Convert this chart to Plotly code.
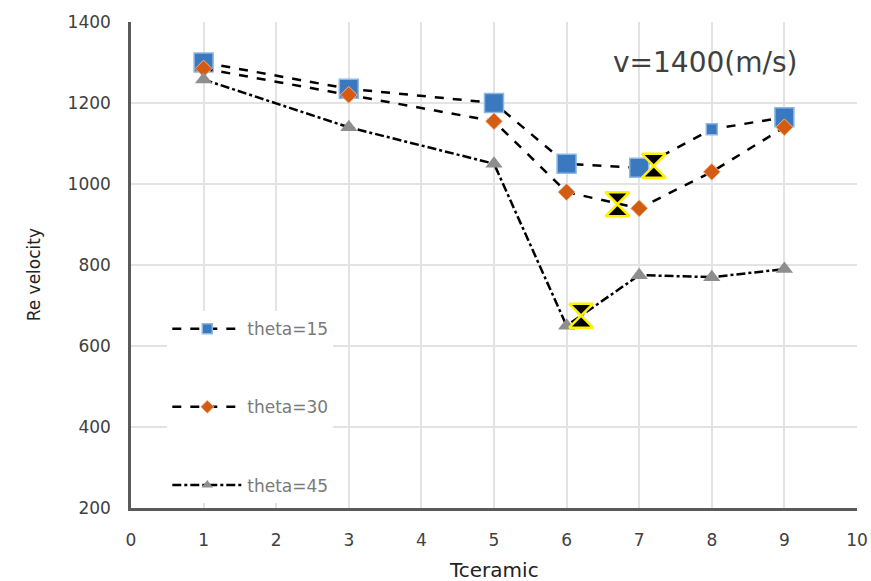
import plotly.graph_objects as go

# Ceramic thickness and residual velocity for v = 1400 m/s
t_ceramic = [1, 3, 5, 6, 7, 8, 9]
theta15 = [1300, 1235, 1200, 1050, 1040, 1135, 1165]
theta30 = [1285, 1220, 1155, 980, 940, 1030, 1140]
theta45 = [1258, 1140, 1050, 650, 775, 770, 790]

# Highlighted minimum points
min_x = [7.2, 6.7, 6.2]
min_y = [1045, 950, 675]

x_ticks = [0, 1, 2, 3, 4, 5, 6, 7, 8, 9, 10]
y_ticks = [200, 400, 600, 800, 1000, 1200, 1400]

FONT = "DejaVu Sans, sans-serif"

styles = {
    "theta=15": dict(
        line=dict(color="black", width=2.5, dash="dash"),
        marker=dict(symbol="square", color="#3A78C0", opacity=1,
                    line=dict(color="#8DB8E4", width=1.5)),
        sizes=[19, 19, 19, 19, 19, 11, 19], legend_size=10, group="a"),
    "theta=30": dict(
        line=dict(color="black", width=2.5, dash="dash"),
        marker=dict(symbol="diamond", color="#D45B12", opacity=1,
                    line=dict(color="#F2B58E", width=1)),
        sizes=13, legend_size=10, group="b"),
    "theta=45": dict(
        line=dict(color="black", width=2.5, dash="dashdot"),
        marker=dict(symbol="triangle-up", color="#8E8E8E", opacity=1),
        sizes=15, legend_size=10, group="c"),
}

series = {"theta=15": theta15, "theta=30": theta30, "theta=45": theta45}

fig = go.Figure()

for name, values in series.items():
    st = styles[name]
    # plotted data
    fig.add_trace(go.Scatter(
        x=t_ceramic, y=values, name=name, mode="lines+markers",
        showlegend=False, line=st["line"],
        marker=dict(size=st["sizes"], **st["marker"]),
    ))
    # legend entry with compact marker
    fig.add_trace(go.Scatter(
        x=[None], y=[None], name=name, mode="lines+markers",
        legendgroup=st["group"], line=st["line"],
        marker=dict(size=st["legend_size"], **st["marker"]),
    ))

fig.add_trace(go.Scatter(
    x=min_x, y=min_y, mode="markers", showlegend=False,
    marker=dict(symbol="hourglass", size=24, color="black", opacity=1,
                line=dict(color="#FFF200", width=2.5)),
))

fig.add_annotation(
    x=7.9, y=1299, xref="x", yref="y", text="v=1400(m/s)", showarrow=False,
    font=dict(family=FONT, size=28, color="#404040"),
)

# axis titles
fig.add_annotation(
    x=-0.150, y=0.479, xref="paper", yref="paper", text="Re velocity",
    textangle=-90, showarrow=False,
    font=dict(family=FONT, size=17, color="#222"),
)
fig.add_annotation(
    x=0.5, y=-0.128, xref="paper", yref="paper", text="Tceramic",
    showarrow=False, yanchor="middle",
    font=dict(family=FONT, size=20, color="#222"),
)

axis_common = dict(
    showgrid=True, gridcolor="#E3E3E3", gridwidth=2,
    showline=True, linecolor="#5A5A5A", linewidth=2.5,
    zeroline=False, ticks="outside", tickcolor="rgba(0,0,0,0)",
    tickfont=dict(family=FONT, size=17, color="#404040"),
    automargin=False,
)

fig.update_xaxes(range=[0, 10], tickvals=x_ticks, ticklen=15, **axis_common)
fig.update_yaxes(range=[200, 1400], tickvals=y_ticks, ticklen=14, **axis_common)

fig.update_layout(
    width=871, height=581,
    margin=dict(l=131, r=14, t=22, b=73, autoexpand=False),
    paper_bgcolor="white", plot_bgcolor="white",
    font=dict(family=FONT),
    showlegend=True,
    legend=dict(
        x=0.05, y=0.405, xanchor="left", yanchor="top",
        bgcolor="white", itemwidth=70, tracegroupgap=53,
        font=dict(family=FONT, size=17, color="#7A7A7A"),
        itemclick=False,
    ),
)

fig.write_html("out.html")
